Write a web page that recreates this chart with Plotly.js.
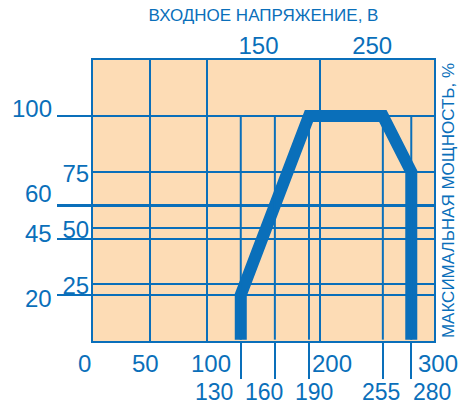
<!DOCTYPE html>
<html>
<head>
<meta charset="utf-8">
<script src="https://cdn.plot.ly/plotly-3.0.1.min.js"></script>
<style>html,body{margin:0;padding:0;background:#fff;}#chart{width:463px;height:407px;}</style>
</head>
<body>
<div id="chart"></div>
<script>
// Data
const voltage = [130, 130, 190, 255, 280, 280];      // input voltage, V
const power   = [0, 20, 100, 100, 75, 0];            // max power, %
const bottomMainTicks = [0, 50, 100, 200, 300];
const bottomExtraTicks = [130, 160, 190, 255, 280];
const topTicks = [150, 250];
const innerYTicks = [25, 50, 75];
const outerYTicks = [20, 45, 60, 100];
const extraLineTop = 100;
const xTitle = 'ВХОДНОЕ НАПРЯЖЕНИЕ, В';
const yTitle = 'МАКСИМАЛЬНАЯ МОЩНОСТЬ, %';

// label nudges in pixels (styling only)
const bottomMainShift = [-9, -4, 4, 12, 4];
const bottomExtraShift = [-27, -11, 5, -2, 21];
const outerYShift = [-4, 5, 12, 7];

const BLUE = '#0a6fba';
const PEACH = '#fddcb5';
const FONT = '"Liberation Sans", Arial, sans-serif';

// extra vertical grid segments (from 0 to 100)
const gx = [], gy = [];
bottomExtraTicks.forEach(v => { gx.push(v, v, null); gy.push(0, extraLineTop, null); });

const traces = [
  {x: gx, y: gy, xaxis: 'x3', yaxis: 'y2', mode: 'lines', line: {color: BLUE, width: 2}, hoverinfo: 'skip', showlegend: false},
  {x: [null], y: [null], xaxis: 'x2', yaxis: 'y3', mode: 'lines', hoverinfo: 'skip', showlegend: false},
  {x: voltage, y: power, xaxis: 'x', yaxis: 'y', mode: 'lines', line: {color: BLUE, width: 12}, showlegend: false}
];

const labelFont = {family: FONT, size: 24, color: BLUE};
const lowFont = {family: FONT, size: 23, color: BLUE};

const annotations = [];
bottomMainTicks.forEach((v, i) => annotations.push({
  x: v, xref: 'x', y: 0, yref: 'paper', text: String(v), showarrow: false,
  xanchor: 'center', yanchor: 'top', xshift: bottomMainShift[i], yshift: -7, font: labelFont
}));
bottomExtraTicks.forEach((v, i) => annotations.push({
  x: v, xref: 'x', y: 0, yref: 'paper', text: String(v), showarrow: false,
  xanchor: 'center', yanchor: 'top', xshift: bottomExtraShift[i], yshift: -37, font: lowFont, borderpad: 0
}));
outerYTicks.forEach((v, i) => annotations.push({
  x: 0, xref: 'paper', y: v, yref: 'y', text: String(v), showarrow: false,
  xanchor: 'right', yanchor: 'middle', xshift: -39, yshift: outerYShift[i], font: labelFont
}));

const layout = {
  width: 463, height: 407,
  margin: {l: 93, r: 29, t: 60, b: 66},
  paper_bgcolor: '#ffffff',
  plot_bgcolor: PEACH,
  showlegend: false,
  font: {family: FONT, color: BLUE},
  annotations: annotations,
  xaxis: {
    range: [0, 300], tickvals: bottomMainTicks,
    showgrid: true, gridcolor: BLUE, gridwidth: 2, zeroline: false,
    showline: true, linecolor: BLUE, linewidth: 2, mirror: true,
    ticks: '', showticklabels: false
  },
  xaxis3: {
    overlaying: 'x', anchor: 'y', side: 'bottom', range: [0, 300],
    tickvals: bottomExtraTicks,
    showgrid: false, zeroline: false, ticks: 'outside', ticklen: 37, tickwidth: 2, tickcolor: BLUE,
    showticklabels: false
  },
  xaxis2: {
    overlaying: 'x', anchor: 'y', side: 'top', range: [0, 300],
    tickvals: topTicks, ticktext: topTicks.map(String), ticklabelshift: -5,
    showgrid: false, zeroline: false, ticks: '', tickfont: labelFont,
    title: {text: xTitle, font: {family: FONT, size: 17, color: BLUE}, standoff: 6}
  },
  yaxis: {
    range: [-0.6, 125], tickvals: innerYTicks, ticktext: innerYTicks.map(String),
    ticklabelshift: 2, ticklabelstandoff: -3,
    showgrid: true, gridcolor: BLUE, gridwidth: 2, zeroline: false,
    showline: true, linecolor: BLUE, linewidth: 2, mirror: true,
    ticks: '', tickfont: labelFont
  },
  yaxis2: {
    overlaying: 'y', anchor: 'x', side: 'left', range: [-0.6, 125],
    tickvals: outerYTicks,
    showgrid: true, gridcolor: BLUE, gridwidth: 2.5, zeroline: false,
    ticks: 'outside', ticklen: 35, tickwidth: 2.5, tickcolor: BLUE, showticklabels: false
  },
  yaxis3: {
    overlaying: 'y', anchor: 'x', side: 'right', range: [-0.6, 125],
    showgrid: false, zeroline: false, showticklabels: false, ticks: '',
    title: {text: yTitle, font: {family: FONT, size: 17, color: BLUE}, standoff: 8}
  }
};

Plotly.newPlot('chart', traces, layout, {staticPlot: true, displayModeBar: false});
</script>
</body>
</html>
